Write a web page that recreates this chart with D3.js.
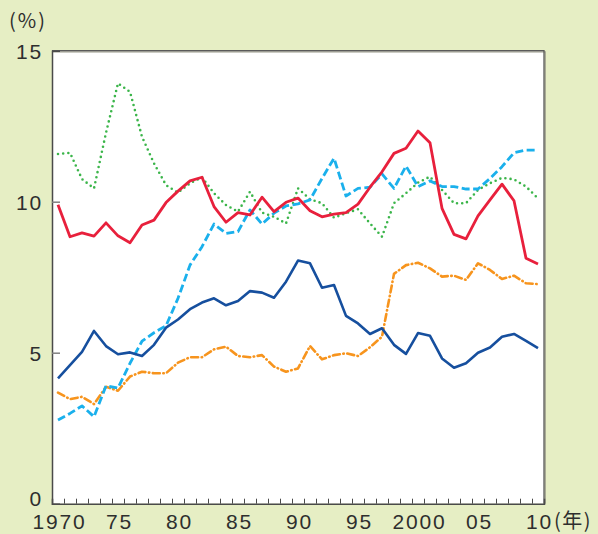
<!DOCTYPE html>
<html>
<head>
    <meta charset="UTF-8">
    <title>Rate by year, 1970-2010</title>
    <style>
        body {
            margin: 0;
            padding: 0;
            background-color: #e6eec4;
        }
        svg {
            display: block;
        }
        .tick text {
            font-family: "Liberation Sans", Arial, sans-serif;
            fill: #2e2e2e;
        }
        .series {
            fill: none;
            stroke-linejoin: round;
        }
    </style>
    <script src="https://d3js.org/d3.v7.min.js"></script>
</head>
<body>
    <div id="chart"></div>

    <script>
        // values, one per year 1970..2010
        var years = d3.range(1970, 2011);

        var redSeries = [9.9, 8.84, 8.97, 8.86, 9.3, 8.87, 8.64, 9.23, 9.39, 9.97,
            10.35, 10.69, 10.81, 9.84, 9.32, 9.64, 9.56, 10.15, 9.67, 9.98,
            10.12, 9.7, 9.5, 9.59, 9.64, 9.92, 10.48, 10.99, 11.6, 11.77,
            12.34, 11.95, 9.78, 8.92, 8.77, 9.53, 10.06, 10.58, 10.03, 8.13, 7.94];

        var blueSeries = [4.15, 4.59, 5.03, 5.72, 5.22, 4.95, 5.01, 4.89, 5.26, 5.83,
            6.1, 6.44, 6.66, 6.8, 6.57, 6.71, 7.04, 6.99, 6.82, 7.35,
            8.05, 7.96, 7.15, 7.24, 6.22, 5.97, 5.62, 5.81, 5.26, 4.96,
            5.65, 5.56, 4.81, 4.5, 4.65, 5.0, 5.17, 5.53, 5.62, 5.39, 5.15];

        var cyanSeries = [2.77, 2.99, 3.24, 2.88, 3.9, 3.83, 4.65, 5.38, 5.66, 5.89,
            6.8, 7.9, 8.51, 9.26, 8.95, 9.01, 9.73, 9.26, 9.62, 9.86,
            9.93, 10.06, 10.77, 11.44, 10.19, 10.44, 10.48, 10.92, 10.44, 11.18,
            10.5, 10.69, 10.5, 10.5, 10.42, 10.42, 10.77, 11.16, 11.62, 11.71, 11.71];

        var orangeSeries = [3.68, 3.46, 3.54, 3.3, 3.87, 3.74, 4.21, 4.37, 4.32, 4.32,
            4.67, 4.85, 4.85, 5.11, 5.2, 4.89, 4.85, 4.92, 4.54, 4.37,
            4.48, 5.22, 4.78, 4.92, 4.98, 4.89, 5.18, 5.53, 7.61, 7.9,
            7.98, 7.79, 7.52, 7.55, 7.41, 7.96, 7.74, 7.44, 7.55, 7.3, 7.27];

        var greenSeries = [11.58, 11.62, 10.75, 10.44, 12.28, 13.92, 13.64, 12.15, 11.27, 10.55,
            10.3, 10.61, 10.81, 10.28, 9.89, 9.67, 10.33, 9.64, 9.5, 9.28,
            10.44, 10.08, 9.95, 9.47, 9.62, 9.75, 9.28, 8.84, 9.95, 10.28,
            10.63, 10.83, 10.39, 9.95, 9.95, 10.39, 10.61, 10.79, 10.74, 10.5, 10.11];

        var xLabelYears = [1970, 1975, 1980, 1985, 1990, 1995, 2000, 2005, 2010];
        var xLabels = ["1970", "75", "80", "85", "90", "95", "2000", "05", "10"];
        var yTicks = [0, 5, 10, 15];

        var width = 598,
            height = 534,
            margin = {top: 50.7, right: 54, bottom: 30.3, left: 52};

        var x = d3.scaleLinear()
            .domain([1969.5, 2010.5])
            .range([margin.left, width - margin.right]);
        var y = d3.scaleLinear()
            .domain([0, 15])
            .range([height - margin.bottom, margin.top]);

        var svg = d3.select("#chart").append("svg")
            .attr("width", width)
            .attr("height", height);

        svg.append("rect")
            .attr("width", width)
            .attr("height", height)
            .attr("fill", "#e6eec4");

        // white plot area
        svg.append("rect")
            .attr("x", x(1969.5))
            .attr("y", y(15))
            .attr("width", x(2010.5) - x(1969.5))
            .attr("height", y(0) - y(15))
            .attr("fill", "#ffffff");

        // small shadow on top/right edge of the frame
        svg.append("path")
            .attr("d", "M" + (x(1969.5) + 1) + "," + (y(15) + 1.2) +
                "H" + (x(2010.5) + 1.2) + "V" + (y(0)))
            .attr("fill", "none")
            .attr("stroke", "#9a9a8a")
            .attr("stroke-width", 1.2);

        svg.append("path")
            .attr("d", "M" + x(1969.5) + "," + y(15) + "H" + x(2010.5) + "V" + y(0))
            .attr("fill", "none")
            .attr("stroke", "#5a5a5a")
            .attr("stroke-width", 1.3);

        // series lines
        var line = d3.line()
            .x(function(d, i) { return x(years[i]); })
            .y(function(d) { return y(d); });

        var series = [
            {values: greenSeries, color: "#3bb54a", width: 2.6, dash: "0,5.2", cap: "round"},
            {values: orangeSeries, color: "#f7941d", width: 2.6, dash: "7,3.5,0.5,3.5", cap: "round"},
            {values: cyanSeries, color: "#1ab0ec", width: 2.8, dash: "8,3.5", cap: "butt"},
            {values: blueSeries, color: "#164f9e", width: 2.6, dash: null, cap: "butt"},
            {values: redSeries, color: "#e8203c", width: 2.8, dash: null, cap: "butt"}
        ];

        svg.selectAll(".series")
            .data(series)
            .enter().append("path")
            .attr("class", "series")
            .attr("d", function(d) { return line(d.values); })
            .attr("stroke", function(d) { return d.color; })
            .attr("stroke-width", function(d) { return d.width; })
            .attr("stroke-dasharray", function(d) { return d.dash; })
            .attr("stroke-linecap", function(d) { return d.cap; });

        // x axis: inner ticks between years, labels under the years
        var xTickAxis = d3.axisBottom(x)
            .tickValues(d3.range(1970.5, 2010, 1))
            .tickSize(-5)
            .tickFormat("");
        var gx = svg.append("g")
            .attr("transform", "translate(0," + y(0) + ")")
            .call(xTickAxis);
        gx.select(".domain").attr("stroke", "#4a4a4a").attr("stroke-width", 1.5);
        gx.selectAll(".tick line").attr("stroke", "#4a4a4a").attr("stroke-width", 1);

        var xLabelAxis = d3.axisBottom(x)
            .tickValues(xLabelYears)
            .tickSize(0)
            .tickPadding(10)
            .tickFormat(function(d, i) { return xLabels[i]; });
        var gxl = svg.append("g")
            .attr("transform", "translate(0," + y(0) + ")")
            .call(xLabelAxis);
        gxl.select(".domain").remove();
        gxl.selectAll(".tick text")
            .attr("font-size", 21)
            .attr("letter-spacing", "1.8px")
            .attr("dx", "0.9px");

        svg.append("text")
            .attr("x", 554)
            .attr("y", 528)
            .attr("font-family", "'Noto Sans CJK JP', sans-serif")
            .attr("font-size", 20)
            .attr("letter-spacing", "1.5px")
            .attr("fill", "#2e2e2e")
            .text("(年)");

        // y axis
        var yAxis = d3.axisLeft(y)
            .tickValues(yTicks)
            .tickSize(-8)
            .tickPadding(9)
            .tickFormat(d3.format("d"));
        var gy = svg.append("g")
            .attr("transform", "translate(" + x(1969.5) + ",0)")
            .call(yAxis);
        gy.select(".domain").attr("stroke", "#4a4a4a").attr("stroke-width", 1.5);
        gy.selectAll(".tick line")
            .attr("stroke", function(d) { return (d === 0 || d === 15) ? "none" : "#808080"; })
            .attr("stroke-width", 1.5);
        gy.selectAll(".tick text")
            .attr("font-size", 21)
            .attr("letter-spacing", "1.8px")
            .attr("dy", function(d) { return d === 0 ? "0.1em" : "0.36em"; });

        svg.append("text")
            .attr("x", 9)
            .attr("y", 28)
            .attr("font-family", "'Noto Sans CJK JP', sans-serif")
            .attr("font-size", 20)
            .attr("letter-spacing", "2px")
            .attr("fill", "#2e2e2e")
            .text("(%)");
    </script>
</body>
</html>
